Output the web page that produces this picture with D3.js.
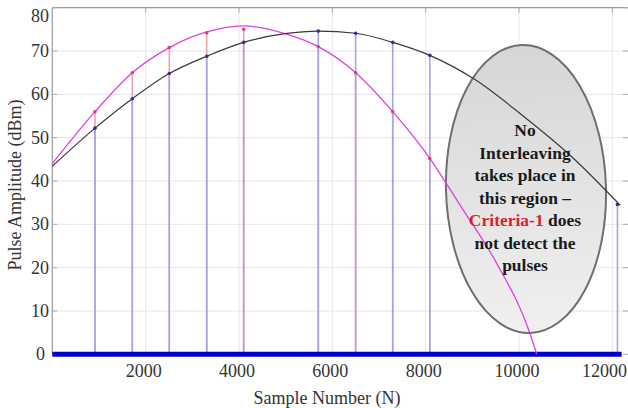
<!DOCTYPE html>
<html><head><meta charset="utf-8">
<script src="https://cdn.jsdelivr.net/npm/d3@7"></script>
<style>html,body{margin:0;padding:0;background:#fff;}svg{display:block;}</style>
</head><body>
<svg id="c" width="628" height="408"></svg>
<script>
// ---- data ----
const xTicks = [2000, 4000, 6000, 8000, 10000, 12000];
const yTicks = [0, 10, 20, 30, 40, 50, 60, 70, 80];
const stemN = [915, 1714, 2507, 3309, 4101, 5700, 6500, 7295, 8090, 12110];
const stemBlack = [52.2, 59.0, 64.8, 68.8, 72.0, 74.6, 74.1, 72.0, 69.0, 34.6];
const stemMagenta = [56.0, 65.0, 70.8, 74.2, 75.0, 71.0, 65.0, 56.0, 45.2, null];
const blackN = [0, 915, 1714, 2507, 3309, 4101, 4985, 5700, 6500, 7295, 8090, 9058, 10022, 11130, 12170];
const blackV = [43.4, 52.2, 59.0, 64.8, 68.8, 72.0, 74.0, 74.6, 74.1, 72.0, 69.0, 63.4, 55.6, 45.6, 34.4];
const magN = [0, 915, 1714, 2507, 3309, 4101, 4985, 5700, 6500, 7295, 8090, 8486, 8807, 9523, 10236, 10380];
const magV = [44.0, 56.0, 65.0, 70.8, 74.4, 75.8, 74.0, 71.0, 65.0, 56.0, 45.2, 38.7, 33.3, 21.0, 4.8, 0];
const baselineN = [0, 12200];
const noteLines = ["No", "Interleaving", "takes place in", "this region \u2013", "Criteria-1 does", "not detect the", "pulses"];

const svg = d3.select("#c");
const font = "'Liberation Serif','Times New Roman',serif";
const x = d3.scaleLinear().domain([0, 12300]).range([52.3, 626.3]);
const y = d3.scaleLinear().domain([0, 80]).range([354.3, 7.7]);

// grid
const g = svg.append("g");
g.selectAll(".gx").data(xTicks).join("line")
  .attr("x1", d => x(d)).attr("x2", d => x(d)).attr("y1", y(0)).attr("y2", y(80))
  .attr("stroke", "#e6e6ec").attr("stroke-width", 1);
g.selectAll(".gy").data(yTicks.filter(d => d > 0)).join("line")
  .attr("x1", x(0)).attr("x2", 628).attr("y1", d => y(d)).attr("y2", d => y(d))
  .attr("stroke", "#e6e6ec").attr("stroke-width", 1);

// frame (top & left)
svg.append("line").attr("x1", x(0)).attr("x2", 628).attr("y1", y(80)).attr("y2", y(80)).attr("stroke", "#9a9a9a").attr("stroke-width", 1.2);
svg.append("line").attr("x1", x(0)).attr("x2", x(0)).attr("y1", y(80)).attr("y2", y(0)).attr("stroke", "#9a9a9a").attr("stroke-width", 1.2);
// inward ticks
svg.selectAll(".tt").data(xTicks).join("line")
  .attr("x1", d => x(d)).attr("x2", d => x(d)).attr("y1", y(80)).attr("y2", y(80) + 5).attr("stroke", "#aaa");
svg.selectAll(".tl").data(yTicks).join("line")
  .attr("x1", x(0)).attr("x2", x(0) + 5).attr("y1", d => y(d)).attr("y2", d => y(d)).attr("stroke", "#aaa");
svg.selectAll(".tr").data(yTicks).join("line")
  .attr("x1", 623).attr("x2", 628).attr("y1", d => y(d)).attr("y2", d => y(d)).attr("stroke", "#aaa");

// ellipse
const defs = svg.append("defs");
const grad = defs.append("linearGradient").attr("id", "eg").attr("x1", 0).attr("y1", 0).attr("x2", 0).attr("y2", 1);
grad.append("stop").attr("offset", "0%").attr("stop-color", "#d6d6d6");
grad.append("stop").attr("offset", "100%").attr("stop-color", "#f0f0f0");
svg.append("ellipse").attr("cx", 526).attr("cy", 189).attr("rx", 80).attr("ry", 144)
  .attr("transform", "rotate(-1.6 526 189)")
  .attr("fill", "url(#eg)").attr("stroke", "#6f6f6f").attr("stroke-width", 2);

// stems
const stems = stemN.map((n, i) => ({n, b: stemBlack[i], m: stemMagenta[i]}));
svg.selectAll(".rs").data(stems.filter(d => d.m != null)).join("line")
  .attr("x1", d => x(d.n)).attr("x2", d => x(d.n)).attr("y1", y(0)).attr("y2", d => y(d.m))
  .attr("stroke", "#f2a0a8").attr("stroke-width", 1.6);
svg.selectAll(".bs").data(stems).join("line")
  .attr("x1", d => x(d.n)).attr("x2", d => x(d.n)).attr("y1", y(0)).attr("y2", d => y(d.b))
  .attr("stroke", "#a4a4ea").attr("stroke-width", 1.6);

// baseline
svg.append("line").attr("x1", x(baselineN[0])).attr("x2", x(baselineN[1])).attr("y1", y(0)).attr("y2", y(0))
  .attr("stroke", "#0000c8").attr("stroke-width", 5);

// curves
const line = d3.line().x(d => x(d[0])).y(d => y(d[1])).curve(d3.curveMonotoneX);
svg.append("path").datum(magN.map((n, i) => [n, magV[i]])).attr("d", line)
  .attr("fill", "none").attr("stroke", "#e040e0").attr("stroke-width", 1.3);
svg.append("path").datum(blackN.map((n, i) => [n, blackV[i]])).attr("d", line)
  .attr("fill", "none").attr("stroke", "#3a3a3a").attr("stroke-width", 1.2);

// dots
svg.selectAll(".rd").data(stems.filter(d => d.m != null)).join("circle")
  .attr("cx", d => x(d.n)).attr("cy", d => y(d.m)).attr("r", 1.8).attr("fill", "#e0406a");
svg.selectAll(".bd").data(stems).join("circle")
  .attr("cx", d => x(d.n)).attr("cy", d => y(d.b)).attr("r", 1.8).attr("fill", "#303090");

// tick labels
svg.selectAll(".xl").data(xTicks).join("text")
  .attr("x", d => d === 12000 ? 627 : x(d) - 2).attr("y", 377)
  .attr("text-anchor", d => d === 12000 ? "end" : "middle")
  .attr("font-family", font).attr("font-size", 18).attr("fill", "#333").text(d => d);
svg.selectAll(".yl").data(yTicks).join("text")
  .attr("x", d => d === 0 ? 45 : 49).attr("y", d => d === 80 ? y(d) + 14 : y(d) + 6).attr("text-anchor", "end")
  .attr("font-family", font).attr("font-size", 18).attr("fill", "#333").text(d => d);

// axis titles
svg.append("text").attr("x", 327).attr("y", 404).attr("text-anchor", "middle")
  .attr("font-family", font).attr("font-size", 18).attr("fill", "#333").text("Sample Number (N)");
svg.append("text").attr("transform", "translate(21,185) rotate(-90)").attr("text-anchor", "middle")
  .attr("font-family", font).attr("font-size", 18).attr("fill", "#333").text("Pulse Amplitude (dBm)");

// note text
const nt = svg.append("text").attr("text-anchor", "middle").attr("font-family", font)
  .attr("font-size", 17.5).attr("font-weight", "bold").attr("fill", "#1a1a1a");
noteLines.forEach((ln, i) => {
  const ts = nt.append("tspan").attr("x", 525).attr("y", 136 + i * 22.5);
  if (ln.startsWith("Criteria-1")) {
    ts.append("tspan").attr("fill", "#e01e2a").text("Criteria-1");
    ts.append("tspan").text(ln.slice("Criteria-1".length));
  } else ts.text(ln);
});
</script>
</body></html>
